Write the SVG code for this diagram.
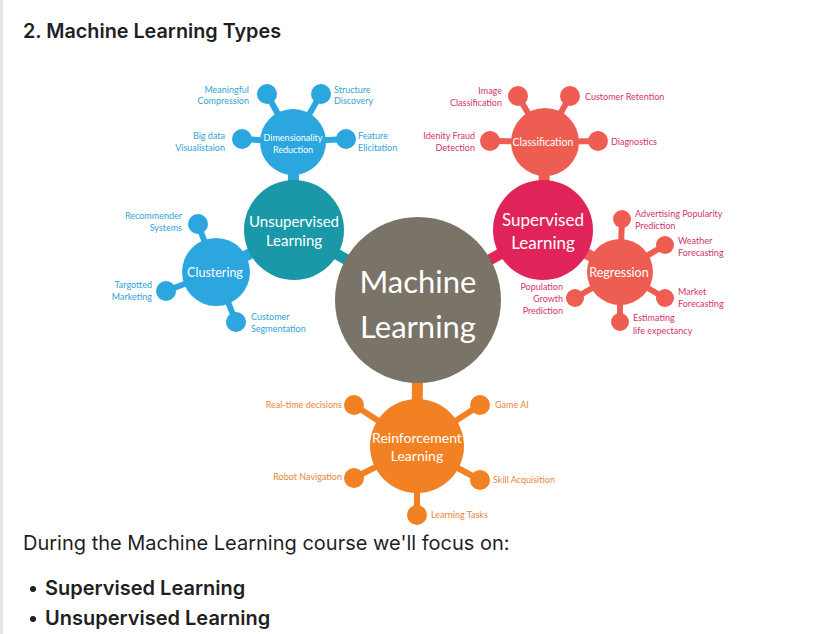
<svg xmlns="http://www.w3.org/2000/svg" width="831" height="634" viewBox="0 0 831 634">
<style>
.page{font-family:Inter,"Noto Sans",sans-serif;fill:#1f1f1f}
.d{font-family:Lato,"Open Sans",sans-serif}
.lb{font-size:9px;fill:#33a3d6}
.lp{font-size:9px;fill:#d2346a}
.lo{font-size:9px;fill:#e8853a}
.w{fill:#fff;text-anchor:middle}
.e{text-anchor:end}
.c-ml{fill:#7a7367}
.c-un{fill:#1b98a8}.s-un{stroke:#1b98a8}
.c-bl{fill:#2ba6de}.s-bl{stroke:#2ba6de}
.c-su{fill:#e0245a}.s-su{stroke:#e0245a}
.c-co{fill:#ee5d52}.s-co{stroke:#ee5d52}
.c-or{fill:#f28124}.s-or{stroke:#f28124}
.thick{stroke-width:11}
.thin{stroke-width:6}
</style>
<rect x="0" y="0" width="831" height="634" fill="#fff"/>
<rect x="0" y="0" width="3" height="634" fill="#e6e6e6"/>
<text class="page" x="23" y="38" font-size="19.8" font-weight="600">2. Machine Learning Types</text>

<g id="connectors">
  <line class="s-un thick" x1="418" y1="300" x2="294" y2="230"/>
  <line class="s-su thick" x1="418" y1="300" x2="543" y2="230"/>
  <line class="s-or thick" x1="418" y1="300" x2="417" y2="446"/>
  <line class="s-bl thick" x1="294" y1="230" x2="216" y2="272"/>
  <line class="s-bl thick" x1="294" y1="230" x2="293" y2="142"/>
  <line class="s-co thick" x1="543" y1="230" x2="545" y2="142"/>
  <line class="s-co thick" x1="543" y1="230" x2="620" y2="272"/>
  <g class="s-bl thin">
    <line x1="293" y1="142" x2="267" y2="94"/>
    <line x1="293" y1="142" x2="321" y2="94"/>
    <line x1="293" y1="142" x2="242" y2="139"/>
    <line x1="293" y1="142" x2="346" y2="139"/>
    <line x1="216" y1="272" x2="198" y2="224"/>
    <line x1="216" y1="272" x2="166" y2="291"/>
    <line x1="216" y1="272" x2="236" y2="322"/>
  </g>
  <g class="s-co thin">
    <line x1="545" y1="142" x2="518" y2="96"/>
    <line x1="545" y1="142" x2="570" y2="96"/>
    <line x1="545" y1="142" x2="490" y2="141"/>
    <line x1="545" y1="142" x2="598" y2="141"/>
    <line x1="620" y1="272" x2="622" y2="219"/>
    <line x1="620" y1="272" x2="665" y2="245"/>
    <line x1="620" y1="272" x2="665" y2="298"/>
    <line x1="620" y1="272" x2="620" y2="322"/>
    <line x1="620" y1="272" x2="575" y2="298"/>
  </g>
  <g class="s-or thin">
    <line x1="417" y1="446" x2="354" y2="405"/>
    <line x1="417" y1="446" x2="480" y2="405"/>
    <line x1="417" y1="446" x2="354" y2="478"/>
    <line x1="417" y1="446" x2="480" y2="480"/>
    <line x1="417" y1="446" x2="417" y2="515"/>
  </g>
</g>

<g id="ml" class="d">
  <circle class="c-ml" cx="418" cy="300" r="83"/>
  <text class="w" x="418" y="293" font-size="31">Machine</text>
  <text class="w" x="418" y="338" font-size="31">Learning</text>
</g>

<g id="unsupervised" class="d">
  <circle class="c-un" cx="294" cy="230" r="50"/>
  <text class="w" x="294" y="227" font-size="15">Unsupervised</text>
  <text class="w" x="294" y="246" font-size="15">Learning</text>
</g>

<g id="dimensionality" class="d">
  <circle class="c-bl" cx="293" cy="142" r="33"/>
  <text class="w" x="293" y="141" font-size="9">Dimensionality</text>
  <text class="w" x="293" y="153" font-size="9">Reduction</text>
</g>
<g id="meaningful-compression" class="d">
  <circle class="c-bl" cx="267" cy="94" r="10"/>
  <text class="lb e" x="249" y="93">Meaningful</text>
  <text class="lb e" x="249" y="104">Compression</text>
</g>
<g id="structure-discovery" class="d">
  <circle class="c-bl" cx="321" cy="94" r="10"/>
  <text class="lb" x="334" y="93">Structure</text>
  <text class="lb" x="334" y="104">Discovery</text>
</g>
<g id="big-data" class="d">
  <circle class="c-bl" cx="242" cy="139" r="10"/>
  <text class="lb e" x="225" y="139">Big data</text>
  <text class="lb e" x="225" y="151">Visualistaion</text>
</g>
<g id="feature-elicitation" class="d">
  <circle class="c-bl" cx="346" cy="139" r="10"/>
  <text class="lb" x="358" y="139">Feature</text>
  <text class="lb" x="358" y="151">Elicitation</text>
</g>

<g id="clustering" class="d">
  <circle class="c-bl" cx="216" cy="272" r="34"/>
  <text class="w" x="215" y="277" font-size="12.5">Clustering</text>
</g>
<g id="recommender" class="d">
  <circle class="c-bl" cx="198" cy="224" r="10"/>
  <text class="lb e" x="182" y="219">Recommender</text>
  <text class="lb e" x="182" y="231">Systems</text>
</g>
<g id="targotted" class="d">
  <circle class="c-bl" cx="166" cy="291" r="10"/>
  <text class="lb e" x="152" y="288">Targotted</text>
  <text class="lb e" x="152" y="300">Marketing</text>
</g>
<g id="segmentation" class="d">
  <circle class="c-bl" cx="236" cy="322" r="10"/>
  <text class="lb" x="251" y="320">Customer</text>
  <text class="lb" x="251" y="332">Segmentation</text>
</g>

<g id="supervised" class="d">
  <circle class="c-su" cx="543" cy="230" r="50"/>
  <text class="w" x="543" y="226" font-size="17">Supervised</text>
  <text class="w" x="543" y="249" font-size="17">Learning</text>
</g>

<g id="classification" class="d">
  <circle class="c-co" cx="545" cy="142" r="34"/>
  <text class="w" x="543" y="146" font-size="10.5">Classification</text>
</g>
<g id="image-classification" class="d">
  <circle class="c-co" cx="518" cy="96" r="10"/>
  <text class="lp e" x="502" y="94">Image</text>
  <text class="lp e" x="502" y="106">Classification</text>
</g>
<g id="customer-retention" class="d">
  <circle class="c-co" cx="570" cy="96" r="10"/>
  <text class="lp" x="585" y="100">Customer Retention</text>
</g>
<g id="identity-fraud" class="d">
  <circle class="c-co" cx="490" cy="141" r="10"/>
  <text class="lp e" x="475" y="139">Idenity Fraud</text>
  <text class="lp e" x="475" y="151">Detection</text>
</g>
<g id="diagnostics" class="d">
  <circle class="c-co" cx="598" cy="141" r="10"/>
  <text class="lp" x="611" y="145">Diagnostics</text>
</g>

<g id="regression" class="d">
  <circle class="c-co" cx="620" cy="272" r="33"/>
  <text class="w" x="619" y="277" font-size="12.5">Regression</text>
</g>
<g id="advertising" class="d">
  <circle class="c-co" cx="622" cy="219" r="9"/>
  <text class="lp" x="635" y="217">Advertising Popularity</text>
  <text class="lp" x="635" y="229">Prediction</text>
</g>
<g id="weather" class="d">
  <circle class="c-co" cx="665" cy="245" r="9"/>
  <text class="lp" x="678" y="244">Weather</text>
  <text class="lp" x="678" y="256">Forecasting</text>
</g>
<g id="market" class="d">
  <circle class="c-co" cx="665" cy="298" r="9"/>
  <text class="lp" x="678" y="295">Market</text>
  <text class="lp" x="678" y="307">Forecasting</text>
</g>
<g id="life-expectancy" class="d">
  <circle class="c-co" cx="620" cy="322" r="9"/>
  <text class="lp" x="633" y="321">Estimating</text>
  <text class="lp" x="633" y="334">life expectancy</text>
</g>
<g id="population" class="d">
  <circle class="c-co" cx="575" cy="298" r="9"/>
  <text class="lp e" x="563" y="290">Population</text>
  <text class="lp e" x="563" y="302">Growth</text>
  <text class="lp e" x="563" y="314">Prediction</text>
</g>

<g id="reinforcement" class="d">
  <circle class="c-or" cx="417" cy="446" r="47"/>
  <text class="w" x="417" y="443" font-size="14">Reinforcement</text>
  <text class="w" x="417" y="461" font-size="14">Learning</text>
</g>
<g id="realtime" class="d">
  <circle class="c-or" cx="354" cy="405" r="10"/>
  <text class="lo e" x="342" y="408">Real-time decisions</text>
</g>
<g id="game-ai" class="d">
  <circle class="c-or" cx="480" cy="405" r="10"/>
  <text class="lo" x="495" y="408">Game AI</text>
</g>
<g id="robot" class="d">
  <circle class="c-or" cx="354" cy="478" r="10"/>
  <text class="lo e" x="342" y="480">Robot Navigation</text>
</g>
<g id="skill" class="d">
  <circle class="c-or" cx="480" cy="480" r="10"/>
  <text class="lo" x="493" y="483">Skill Acquisition</text>
</g>
<g id="learning-tasks" class="d">
  <circle class="c-or" cx="417" cy="515" r="10"/>
  <text class="lo" x="431" y="518">Learning Tasks</text>
</g>

<text class="page" x="23" y="550" font-size="20">During the Machine Learning course we'll focus on:</text>
<circle cx="33" cy="589" r="3" fill="#1f1f1f"/>
<text class="page" x="45" y="595" font-size="20" font-weight="600">Supervised Learning</text>
<circle cx="33" cy="619" r="3" fill="#1f1f1f"/>
<text class="page" x="45" y="625" font-size="20" font-weight="600">Unsupervised Learning</text>
</svg>
